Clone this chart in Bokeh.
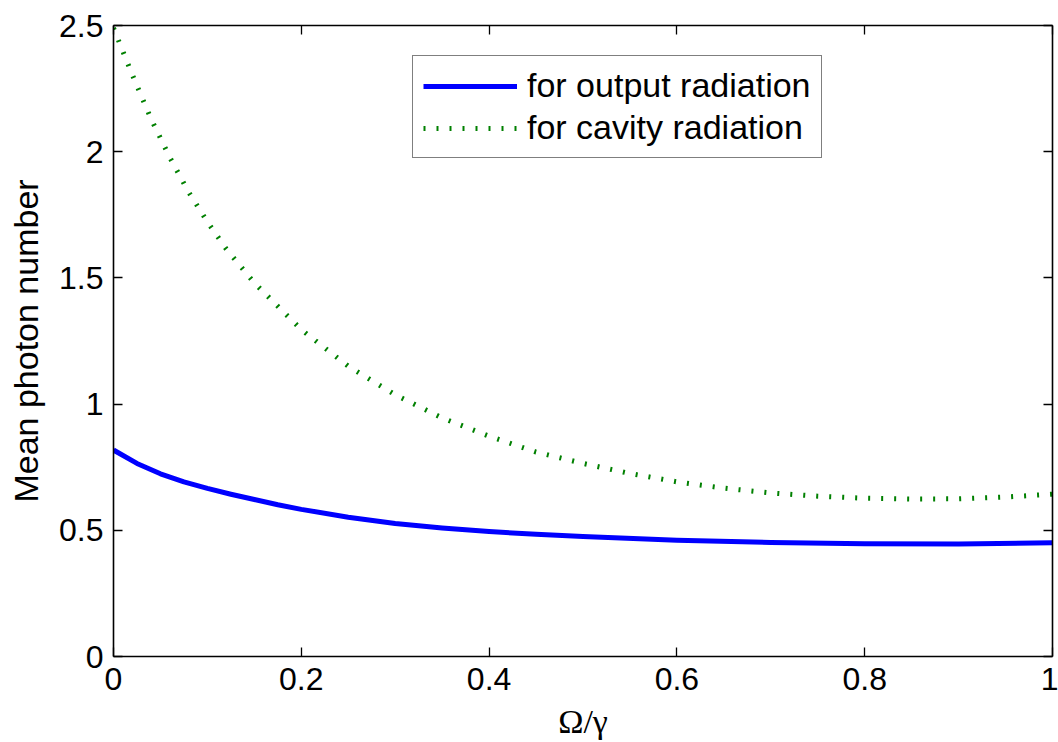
from bokeh.plotting import figure
from bokeh.models import Range1d, LinearAxis, FixedTicker, Legend, LegendItem
from bokeh.embed import file_html
from bokeh.resources import INLINE

# ---- data ----
omega_out = [0.0, 0.025, 0.05, 0.075, 0.1, 0.125, 0.15, 0.175, 0.2, 0.25, 0.3, 0.35,
             0.4, 0.45, 0.5, 0.6, 0.7, 0.8, 0.9, 1.0]
n_output = [0.818, 0.765, 0.724, 0.692, 0.666, 0.643, 0.622, 0.601, 0.583, 0.552, 0.527, 0.509,
            0.495, 0.484, 0.475, 0.461, 0.452, 0.447, 0.446, 0.451]

omega_cav = [0.0, 0.02, 0.04, 0.06, 0.08, 0.10, 0.12, 0.15, 0.2, 0.25, 0.3, 0.35, 0.4,
             0.45, 0.5, 0.55, 0.6, 0.65, 0.7, 0.75, 0.8, 0.85, 0.9, 0.95, 1.0]
n_cavity = [2.49, 2.305, 2.13, 1.977, 1.84, 1.722, 1.615, 1.48, 1.295, 1.15, 1.037, 0.945, 0.873,
            0.81, 0.765, 0.725, 0.692, 0.667, 0.648, 0.635, 0.627, 0.624, 0.625, 0.632, 0.643]

series_labels = ["for output radiation", "for cavity radiation"]

x_ticks = [0, 0.2, 0.4, 0.6, 0.8, 1]
x_tick_labels = ["0", "0.2", "0.4", "0.6", "0.8", "1"]
y_ticks = [0, 0.5, 1, 1.5, 2, 2.5]
y_tick_labels = ["0", "0.5", "1", "1.5", "2", "2.5"]

x_label = "Ω/γ"
y_label = "Mean photon number"

SANS = "Liberation Sans"
SERIF = "Liberation Serif"

p = figure(width=1058, height=742,
           x_range=Range1d(0, 1), y_range=Range1d(0, 2.5),
           output_backend="svg", toolbar_location=None,
           min_border_left=113, min_border_right=6,
           min_border_top=25, min_border_bottom=85,
           background_fill_color="white", border_fill_color="white")
p.outline_line_color = None
p.xgrid.visible = False
p.ygrid.visible = False

r1 = p.line(omega_out, n_output, line_color="#0000ff", line_width=5, line_join="round")
r2 = p.line(omega_cav, n_cavity, line_color="#008000", line_width=5, line_dash="2 11")


def style_axis(ax, ticks, labels=None, show=True):
    ax.ticker = FixedTicker(ticks=ticks)
    ax.axis_line_color = "black"
    ax.axis_line_width = 1.6
    ax.major_tick_line_color = "black"
    ax.major_tick_line_width = 1.3
    ax.major_tick_in = 9
    ax.major_tick_out = 0
    ax.minor_tick_in = 0
    ax.minor_tick_out = 0
    ax.minor_tick_line_color = None
    if show:
        ax.major_label_overrides = dict(zip(ticks, labels))
        ax.major_label_text_font = SANS
        ax.major_label_text_font_size = "32px"
        ax.major_label_text_color = "black"
    else:
        ax.major_label_text_font_size = "0px"
        ax.major_label_standoff = 0


xa = p.xaxis[0]
style_axis(xa, x_ticks, x_tick_labels)
xa.major_label_standoff = 11
xa.axis_label = x_label
xa.axis_label_text_font = SERIF
xa.axis_label_text_font_size = "34px"
xa.axis_label_text_font_style = "normal"
xa.axis_label_text_color = "black"
xa.axis_label_standoff = 10

ya = p.yaxis[0]
style_axis(ya, y_ticks, y_tick_labels)
ya.major_label_standoff = 10
ya.axis_label = y_label
ya.axis_label_text_font = SANS
ya.axis_label_text_font_size = "34px"
ya.axis_label_text_font_style = "normal"
ya.axis_label_text_color = "black"
ya.axis_label_standoff = 11

top = LinearAxis()
style_axis(top, x_ticks, show=False)
p.add_layout(top, "above")
right = LinearAxis()
style_axis(right, y_ticks, show=False)
p.add_layout(right, "right")

legend = Legend(items=[LegendItem(label=series_labels[0], renderers=[r1]),
                       LegendItem(label=series_labels[1], renderers=[r2])],
                location=(299, 498))
legend.label_text_font = SANS
legend.label_text_font_size = "34px"
legend.label_text_color = "black"
legend.label_height = 38
legend.glyph_height = 38
legend.glyph_width = 94
legend.label_standoff = 10
legend.spacing = 3
legend.padding = 10
legend.margin = 0
legend.border_line_color = "black"
legend.border_line_width = 1.5
legend.background_fill_color = "white"
legend.background_fill_alpha = 1.0
p.add_layout(legend)

open("out.html", "w").write(file_html(p, INLINE))
